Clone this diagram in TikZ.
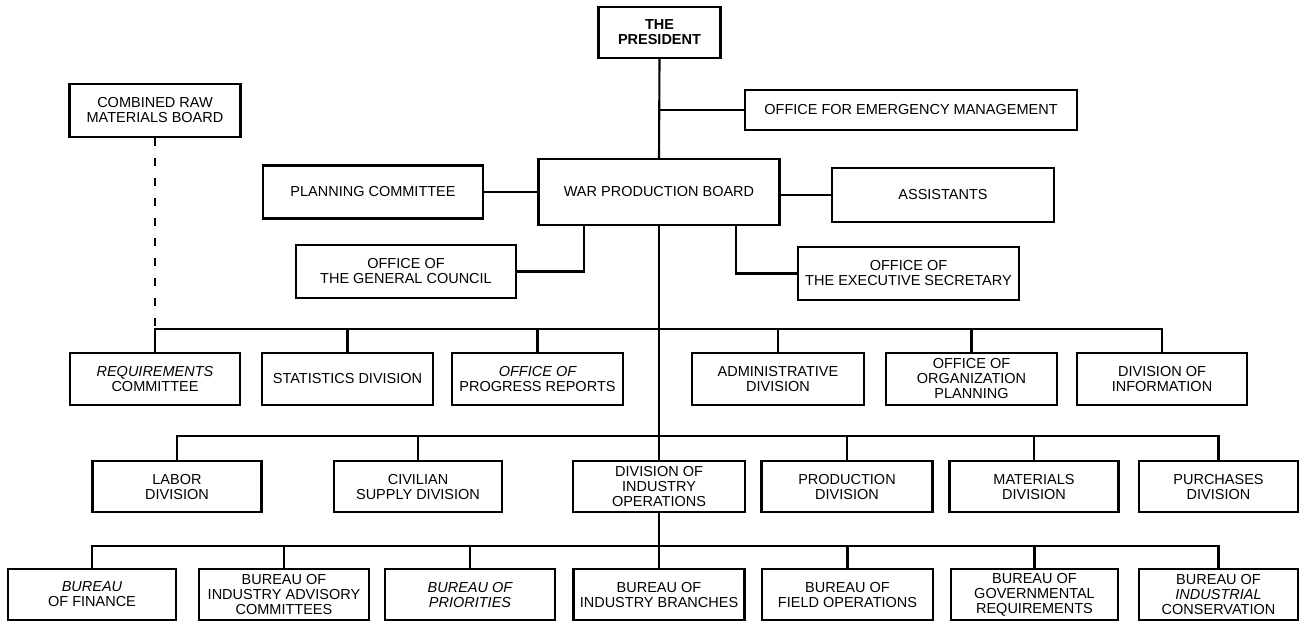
\documentclass[tikz,border=0pt]{standalone}
\usepackage{fontspec}
\setmainfont{Liberation Sans}
\begin{document}
\begin{tikzpicture}[x=1pt,y=-1pt,
  box/.style={draw,line width=2.4pt,inner sep=0pt,align=center,font=\fontsize{14.5}{15}\selectfont},
  r1/.style={box,minimum height=52pt},
  r2/.style={box,minimum height=51pt},
  r3/.style={box,minimum height=51pt},
  conn/.style={line width=2.1pt},
  dconn/.style={line width=1.8pt,dash pattern=on 8pt off 12pt}]
\useasboundingbox (0,0) rectangle (1300,624);
% top level
\node[box,minimum width=122pt,minimum height=51pt] (pres) at (659.5,32.5) {\textbf{THE}\\\textbf{PRESIDENT}};
\node[box,minimum width=332pt,minimum height=40pt] (oem) at (911,110) {OFFICE FOR EMERGENCY MANAGEMENT};
\node[box,minimum width=171pt,minimum height=53pt] (crmb) at (155,110.5) {COMBINED RAW\\MATERIALS BOARD};
\node[box,minimum width=241pt,minimum height=66pt] (wpb) at (659,192) {WAR PRODUCTION BOARD};
\node[box,minimum width=220pt,minimum height=53pt] (pc) at (373,192) {PLANNING COMMITTEE};
\node[box,minimum width=222pt,minimum height=54pt] (asst) at (943,195) {ASSISTANTS};
\node[box,minimum width=220pt,minimum height=53pt] (ogc) at (406,271.5) {OFFICE OF\\THE GENERAL COUNCIL};
\node[box,minimum width=221pt,minimum height=53pt] (oes) at (908.5,273.5) {OFFICE OF\\THE EXECUTIVE SECRETARY};
% row 1
\node[r1,minimum width=170pt] (req) at (155,379) {{\itshape REQUIREMENTS}\\COMMITTEE};
\node[r1,minimum width=171pt] (stat) at (347.5,379) {STATISTICS DIVISION};
\node[r1,minimum width=171pt] (opr) at (537.5,379) {{\itshape OFFICE OF}\\PROGRESS REPORTS};
\node[r1,minimum width=172pt] (adm) at (778,379) {ADMINISTRATIVE\\DIVISION};
\node[r1,minimum width=171pt] (oop) at (971.5,379) {OFFICE OF\\ORGANIZATION\\PLANNING};
\node[r1,minimum width=170pt] (dinf) at (1162,379) {DIVISION OF\\INFORMATION};
% row 2
\node[r2,minimum width=169pt] (labor) at (177,486.5) {LABOR\\DIVISION};
\node[r2,minimum width=168pt] (civ) at (418,486.5) {CIVILIAN\\SUPPLY DIVISION};
\node[r2,minimum width=172pt] (dio) at (659,486.5) {DIVISION OF\\INDUSTRY\\OPERATIONS};
\node[r2,minimum width=171pt] (prod) at (847,486.5) {PRODUCTION\\DIVISION};
\node[r2,minimum width=169pt] (mat) at (1034,486.5) {MATERIALS\\DIVISION};
\node[r2,minimum width=159pt] (purch) at (1218.5,486.5) {PURCHASES\\DIVISION};
% row 3
\node[r3,minimum width=168pt] (bfin) at (92,594.5) {{\itshape BUREAU}\\OF FINANCE};
\node[r3,minimum width=170pt] (biac) at (284,594.5) {BUREAU OF\\INDUSTRY ADVISORY\\COMMITTEES};
\node[r3,minimum width=170pt] (bpri) at (470,594.5) {\itshape BUREAU OF\\\itshape PRIORITIES};
\node[r3,minimum width=171pt] (bib) at (659,594.5) {BUREAU OF\\INDUSTRY BRANCHES};
\node[r3,minimum width=171pt] (bfo) at (847.5,594.5) {BUREAU OF\\FIELD OPERATIONS};
\node[r3,minimum width=167pt] (bgr) at (1034.5,594.5) {BUREAU OF\\GOVERNMENTAL\\REQUIREMENTS};
\node[r3,minimum width=159pt] (bic) at (1218.5,594.5) {BUREAU OF\\{\itshape INDUSTRIAL}\\CONSERVATION};
% trunk
\draw[conn] (pres.south) -- (wpb.north);
\draw[conn] (wpb.south) -- (dio.north);
\draw[conn] (dio.south) -- (bib.north);
% top connectors
\draw[conn] (oem.west) -- (oem.west -| pres.south);
\draw[conn] (pc.east) -- (wpb.west);
\draw[conn] (asst.west) -- (asst.west -| wpb.east);
\draw[conn] (ogc.east) -| ([xshift=-75pt]wpb.south);
\draw[conn] (oes.west) -| ([xshift=77pt]wpb.south);
\draw[dconn] (crmb.south) -- ([yshift=23pt]req.north);
% row 1 bus
\draw[conn] (req.north) -- ++(0,-23) -| (dinf.north);
\foreach \n in {stat,opr,adm,oop} \draw[conn] (\n.north) -- ++(0,-23);
% row 2 bus
\draw[conn] (labor.north) -- ++(0,-24) -| (purch.north);
\foreach \n in {civ,prod,mat} \draw[conn] (\n.north) -- ++(0,-24);
% row 3 bus
\draw[conn] (bfin.north) -- ++(0,-22) -| (bic.north);
\foreach \n in {biac,bpri,bfo,bgr} \draw[conn] (\n.north) -- ++(0,-22);
\end{tikzpicture}
\end{document}
